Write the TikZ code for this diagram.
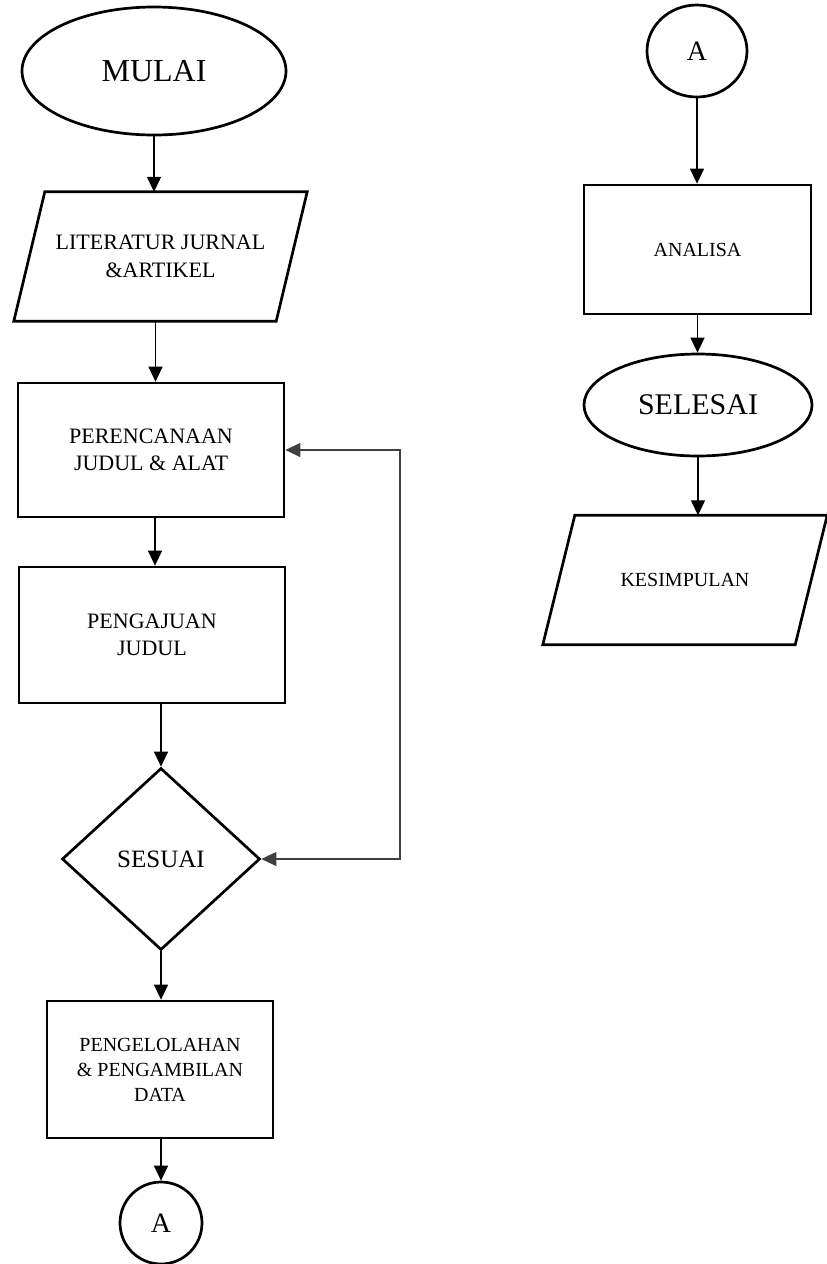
\documentclass[tikz,border=0pt]{standalone}
\usepackage{fontspec}
\setmainfont{Liberation Serif}
\usetikzlibrary{shapes.geometric,arrows.meta}
\tikzset{
  garis/.style={draw=black, line width=2.7pt},
  proses/.style={garis, rectangle, align=center, inner sep=0pt},
  data/.style={rectangle, align=center, inner sep=0pt},
  terminal/.style={garis, ellipse, inner sep=0pt},
  keputusan/.style={garis, diamond, inner sep=0pt},
  konektor/.style={garis, ellipse, inner sep=0pt},
  panah/.style={-{Triangle[width=14pt,length=15pt]}, line width=1.3pt},
  balik/.style={{Triangle[width=14pt,length=15pt]}-{Triangle[width=14pt,length=15pt]}, line width=1.1pt, draw=black!75}
}
\newcommand{\huruf}[1]{\fontsize{#1}{1.25\dimexpr#1pt\relax}\selectfont}
\begin{document}
\begin{tikzpicture}[x=1pt,y=1pt]
\useasboundingbox (0,0) rectangle (827,-1264);
\node[terminal, minimum width=264pt, minimum height=128pt, font=\huruf{32}] at (154,-71) (mulai) {MULAI};
\node[data, minimum width=262pt, minimum height=129pt, font=\huruf{22}] at (160.5,-256.5) (literatur) {LITERATUR JURNAL\\\&ARTIKEL};
\draw[garis] ([xshift=-15.5pt]literatur.south west) -- ([xshift=15.5pt]literatur.north west) -- ([xshift=15.5pt]literatur.north east) -- ([xshift=-15.5pt]literatur.south east) -- cycle;
\node[proses, minimum width=266pt, minimum height=134pt, font=\huruf{22}] at (151,-450) (perencanaan) {PERENCANAAN\\JUDUL \& ALAT};
\node[proses, minimum width=266pt, minimum height=136pt, font=\huruf{22}] at (152,-635) (pengajuan) {PENGAJUAN\\JUDUL};
\node[keputusan, minimum width=198pt, minimum height=182pt, font=\huruf{25}] at (161,-859) (sesuai) {SESUAI};
\node[proses, minimum width=226pt, minimum height=137pt, font=\huruf{20}] at (160,-1069.5) (pengelolahan) {PENGELOLAHAN\\\& PENGAMBILAN\\DATA};
\node[konektor, minimum width=82pt, minimum height=82pt, font=\huruf{28}] at (161,-1223) (konA) {A};
\node[konektor, minimum width=100pt, minimum height=92pt, font=\huruf{28}] at (697,-51) (konB) {A};
\node[proses, minimum width=227pt, minimum height=129pt, font=\huruf{20}] at (697.5,-249.5) (analisa) {ANALISA};
\node[terminal, minimum width=228pt, minimum height=102pt, font=\huruf{30}] at (698,-405) (selesai) {SELESAI};
\node[data, minimum width=252pt, minimum height=129pt, font=\huruf{20}] at (685,-580) (kesimpulan) {KESIMPULAN};
\draw[garis] ([xshift=-16pt]kesimpulan.south west) -- ([xshift=16pt]kesimpulan.north west) -- ([xshift=16pt]kesimpulan.north east) -- ([xshift=-16pt]kesimpulan.south east) -- cycle;
\node[shape=coordinate] at (400,-859) (B1) {};
\draw[panah] (mulai.south) -- (mulai.south |- literatur.north);
\draw[panah] ([xshift=-5pt]literatur.south) -- ([xshift=-5pt]literatur.south |- perencanaan.north);
\draw[panah] ([xshift=4pt]perencanaan.south) -- ([xshift=4pt]perencanaan.south |- pengajuan.north);
\draw[panah] (sesuai.north |- pengajuan.south) -- (sesuai.north);
\draw[panah] (sesuai.south) -- (sesuai.south |- pengelolahan.north);
\draw[panah] (konA.north |- pengelolahan.south) -- (konA.north);
\draw[panah] (konB.south) -- (konB.south |- analisa.north);
\draw[panah] (analisa.south) -- (analisa.south |- selesai.north);
\draw[panah] (selesai.south) -- (selesai.south |- kesimpulan.north);
\draw[balik] (perencanaan.east) -- (perencanaan.east -| B1) -- (B1) -- (sesuai.east);
\end{tikzpicture}
\end{document}
